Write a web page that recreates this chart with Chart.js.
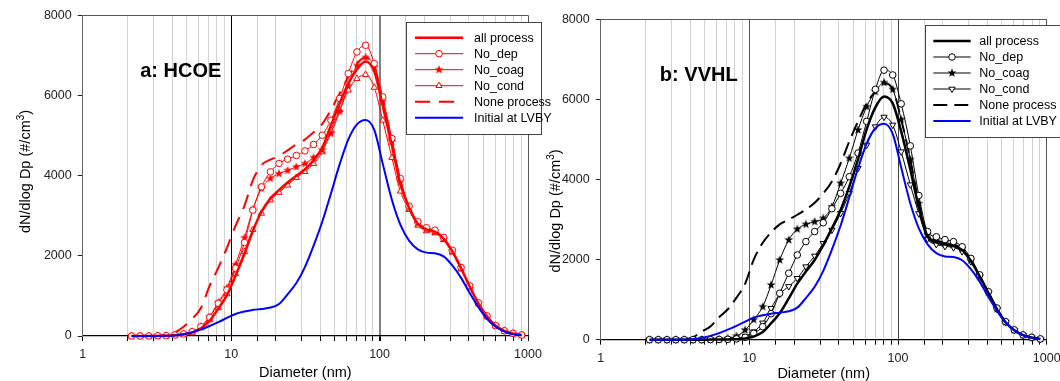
<!DOCTYPE html>
<html>
<head>
<meta charset="utf-8">
<script src="https://cdn.jsdelivr.net/npm/chart.js@4/dist/chart.umd.min.js"></script>
<style>
  body { margin: 0; background: #fff; }
  #wrap { position: relative; width: 1060px; height: 381px; overflow: hidden; }
  canvas { position: absolute; top: 0; }
</style>
</head>
<body>
<div id="wrap">
  <canvas id="chartA" width="560" height="381" style="left:0"></canvas>
  <canvas id="chartB" width="530" height="381" style="left:530px"></canvas>
</div>
<script>
// particle diameters (nm), same bins for every series
const diam = [2.13, 2.44, 2.79, 3.20, 3.65, 4.18, 4.78, 5.47, 6.26, 7.16, 8.19,
  9.37, 10.7, 12.3, 14.0, 16.0, 18.4, 21.0, 24.0, 27.5, 31.4,
  35.9, 41.1, 47.0, 53.8, 61.5, 70.4, 80.5, 92.1, 105, 121,
  138, 158, 181, 207, 236, 270, 309, 354, 405, 463,
  529, 605, 693, 792, 906];

// initial size distribution at LVBY (same in both panels)
const initialLVBY = [0, 0, 0, 0, 5, 12, 45, 95, 165, 250, 345,
  450, 550, 610, 650, 675, 710, 800, 1040, 1320, 1720,
  2250, 2850, 3550, 4280, 4900, 5280, 5390, 5140, 4300, 3400,
  2780, 2380, 2160, 2080, 2065, 1985, 1760, 1450, 1070, 720,
  430, 235, 110, 45, 15];

// panel a: HCOE
const hcoeAll = [0, 0, 0, 3, 8, 20, 40, 85, 190, 380, 680,
  1020, 1500, 2050, 2620, 3100, 3430, 3640, 3830, 4000, 4160,
  4380, 4700, 5250, 5800, 6300, 6650, 6850, 6600, 5750, 4750,
  3800, 3200, 2800, 2660, 2600, 2430, 2110, 1690, 1230, 815,
  490, 255, 128, 64, 24];
const hcoeNoDep = [0, 0, 0, 5, 10, 25, 50, 108, 233, 465, 814,
  1150, 1690, 2330, 3140, 3720, 4095, 4303, 4411, 4502, 4618,
  4777, 5009, 5383, 5923, 6546, 7086, 7252, 6795, 5964, 4926,
  3929, 3240, 2850, 2700, 2640, 2460, 2140, 1710, 1250, 830,
  500, 260, 130, 66, 25];
const hcoeNoCoag = [0, 0, 0, 5, 10, 25, 50, 110, 240, 480, 840,
  1200, 1780, 2450, 3150, 3680, 3930, 4050, 4130, 4220, 4300,
  4450, 4640, 5050, 5600, 6250, 6750, 6950, 6700, 5850, 4850,
  3850, 3200, 2810, 2660, 2600, 2420, 2110, 1690, 1230, 815,
  490, 255, 128, 64, 24];
const hcoeNoCond = [0, 0, 0, 3, 8, 20, 40, 90, 200, 400, 700,
  1050, 1550, 2100, 2650, 3060, 3390, 3580, 3760, 3950, 4100,
  4300, 4590, 5130, 5630, 6130, 6420, 6520, 6200, 5380, 4450,
  3610, 3150, 2760, 2620, 2570, 2400, 2090, 1670, 1220, 810,
  485, 250, 125, 62, 22];
const hcoeNone = [null, null, null, null, null, 80, 230, 430, 700, 1250, 1700,
  2200, 2750, 3250, 3880, 4260, 4400, 4490, 4630, 4780, 4900,
  5080, 5290, 5640, 6050, 6450, 6800, 6950, 6700, 5850, 4850,
  3850, 3200, 2810, 2660, 2600, 2420, 2110, 1690, 1230, 815,
  490, 255, 128, 64, 24];

// panel b: VVHL
const vvhlAll = [0, 0, 0, 0, 0, 0, 0, 2, 4, 8, 12,
  30, 80, 190, 410, 660, 1030, 1400, 1700, 1990, 2360,
  2780, 3240, 3820, 4500, 5250, 5800, 6070, 5900, 5200, 4250,
  3300, 2580, 2430, 2380, 2340, 2240, 1970, 1580, 1170, 765,
  435, 238, 114, 54, 16];
const vvhlNoDep = [0, 0, 0, 0, 0, 0, 0, 3, 6, 10, 20,
  60, 160, 325, 650, 1160, 1660, 2115, 2450, 2700, 2920,
  3270, 3655, 4070, 4660, 5450, 6250, 6730, 6610, 5890, 4840,
  3600, 2700, 2570, 2500, 2450, 2320, 2030, 1620, 1200, 790,
  450, 245, 120, 60, 20];
const vvhlNoCoag = [0, 0, 0, 0, 0, 0, 0, 5, 10, 30, 90,
  240, 500, 824, 1366, 1990, 2490, 2760, 2880, 2946, 3030,
  3320, 3905, 4530, 5236, 5818, 6193, 6420, 6250, 5500, 4500,
  3400, 2620, 2480, 2420, 2380, 2270, 1990, 1590, 1180, 770,
  440, 240, 115, 55, 18];
const vvhlNoCond = [0, 0, 0, 0, 0, 0, 0, 3, 6, 12, 30,
  80, 200, 420, 784, 1140, 1330, 1533, 1823, 2090, 2407,
  2739, 3156, 3655, 4280, 4862, 5319, 5560, 5361, 4694, 3870,
  3150, 2520, 2380, 2330, 2300, 2200, 1950, 1560, 1160, 760,
  430, 235, 112, 52, 15];
const vvhlNone = [null, null, null, null, 0, 60, 200, 330, 560, 760, 1050,
  1400, 2000, 2420, 2680, 2880, 3000, 3120, 3250, 3420, 3650,
  3950, 4400, 4950, 5450, 5900, 6200, 6400, 6250, 5500, 4500,
  3400, 2620, 2480, 2420, 2380, 2270, 1990, 1590, 1180, 770,
  440, 240, 115, 55, 18];

// axis ticks
const xTickLabels = [1, 10, 100, 1000];
const yTicks = [0, 2000, 4000, 6000, 8000];

const FONT = '"Liberation Sans", Arial, Helvetica, sans-serif';

// filled five point star as a point image
const starImage = (color) => {
  var c = document.createElement('canvas');
  c.width = 10; c.height = 10;
  var g = c.getContext('2d');
  g.fillStyle = color;
  g.beginPath();
  for (var i = 0; i < 10; i++) {
    var r = i % 2 ? 1.9 : 4.7;
    var t = -Math.PI / 2 + i * Math.PI / 5;
    g.lineTo(5 + r * Math.cos(t), 5 + r * Math.sin(t));
  }
  g.closePath();
  g.fill();
  return c;
}

const toPoints = (vals) => diam.map((d, i) => ({x: d, y: vals[i]}));

const makeDatasets = (color, s, triRot) => [
  {label: 'all process', data: toPoints(s.all), borderColor: color, borderWidth: 2.5,
   pointRadius: 0, order: 1},
  {label: 'No_dep', data: toPoints(s.noDep), borderColor: color, borderWidth: 1,
   pointStyle: 'circle', pointRadius: 3.3, pointBorderWidth: 1,
   pointBackgroundColor: '#fff', pointBorderColor: color, order: 2},
  {label: 'No_coag', data: toPoints(s.noCoag), borderColor: color, borderWidth: 1,
   pointStyle: starImage(color), pointRadius: 4, order: 3},
  {label: 'No_cond', data: toPoints(s.noCond), borderColor: color, borderWidth: 1,
   pointStyle: 'triangle', pointRotation: triRot, pointRadius: 3.6, pointBorderWidth: 1,
   pointBackgroundColor: '#fff', pointBorderColor: color, order: 4},
  {label: 'None process', data: toPoints(s.none), borderColor: color, borderWidth: 2,
   borderDash: s.dash, pointRadius: 0, order: 5},
  {label: 'Initial at LVBY', data: toPoints(initialLVBY), borderColor: '#0000ff',
   borderWidth: 2, pointRadius: 0, order: 0}
];

// titles, panel label and the boxed legend
const decor = {
  id: 'decor',
  afterDraw(chart, args, o) {
    var ctx = chart.ctx;
    var a = chart.chartArea;
    var xs = chart.scales.x, ys = chart.scales.y;
    ctx.save();
    ctx.fillStyle = '#000';

    // panel label
    ctx.font = 'bold 20px ' + FONT;
    ctx.textAlign = 'left';
    ctx.textBaseline = 'middle';
    ctx.fillText(o.panel, xs.getPixelForValue(o.panelAt[0]), ys.getPixelForValue(o.panelAt[1]));

    // x title
    ctx.font = '14.5px ' + FONT;
    ctx.textAlign = 'center';
    ctx.fillText('Diameter (nm)', (a.left + a.right) / 2, o.xTitleY);

    // y title with superscript
    ctx.save();
    ctx.translate(a.left - o.yTitleOff, o.yTitleMid);
    ctx.rotate(-Math.PI / 2);
    ctx.textBaseline = 'alphabetic';
    ctx.textAlign = 'left';
    var t1 = 'dN/dlog Dp (#/cm', t2 = '3', t3 = ')';
    ctx.font = '14.5px ' + FONT;
    var w1 = ctx.measureText(t1).width, w3 = ctx.measureText(t3).width;
    ctx.font = '10px ' + FONT;
    var w2 = ctx.measureText(t2).width;
    var x0 = -(w1 + w2 + w3) / 2;
    ctx.font = '14.5px ' + FONT;
    ctx.fillText(t1, x0, 0);
    ctx.fillText(t3, x0 + w1 + w2, 0);
    ctx.font = '10px ' + FONT;
    ctx.fillText(t2, x0 + w1, -6);
    ctx.restore();

    // legend box
    var bx = a.right - 122, by = a.top + o.legendTop;
    ctx.fillStyle = '#fff';
    ctx.fillRect(bx, by, 135, 112);
    ctx.strokeStyle = '#444';
    ctx.lineWidth = 1;
    ctx.strokeRect(Math.round(bx) + 0.5, Math.round(by) + 0.5, 135, 112);

    var dsets = chart.data.datasets;
    for (var i = 0; i < dsets.length; i++) {
      var ds = dsets[i];
      var ry = by + 15.7 + i * 16;
      var l0 = bx + o.lineFrom, l1 = bx + o.lineTo;
      ctx.strokeStyle = ds.borderColor;
      ctx.lineWidth = ds.borderWidth;
      ctx.setLineDash(ds.borderDash || []);
      ctx.beginPath();
      ctx.moveTo(l0, ry);
      ctx.lineTo(l1, ry);
      ctx.stroke();
      ctx.setLineDash([]);
      if (ds.pointRadius) {
        var mx = (l0 + l1) / 2;
        if (ds.pointStyle instanceof HTMLCanvasElement) {
          ctx.drawImage(ds.pointStyle, mx - ds.pointStyle.width / 2, ry - ds.pointStyle.height / 2);
        } else {
          ctx.fillStyle = ds.pointBackgroundColor;
          ctx.strokeStyle = ds.pointBorderColor;
          ctx.lineWidth = ds.pointBorderWidth;
          Chart.helpers.drawPoint(ctx, {pointStyle: ds.pointStyle, rotation: ds.pointRotation || 0,
            radius: ds.pointRadius, borderWidth: ds.pointBorderWidth}, mx, ry);
        }
      }
      ctx.fillStyle = '#000';
      ctx.font = '12.5px ' + FONT;
      ctx.textAlign = 'left';
      ctx.textBaseline = 'middle';
      ctx.fillText(ds.label, bx + o.textFrom, ry + 0.5);
    }
    ctx.restore();
  }
};

const buildChart = (id, datasets, p) => {
  var frame = '#555';
  return new Chart(document.getElementById(id), {
    type: 'line',
    data: {datasets: datasets},
    plugins: [decor],
    options: {
      responsive: false,
      animation: false,
      devicePixelRatio: 1,
      cubicInterpolationMode: 'monotone',
      clip: false,
      layout: {padding: {left: 0, right: p.padRight, top: p.padTop, bottom: 0}},
      elements: {line: {cubicInterpolationMode: 'monotone'}},
      plugins: {
        legend: {display: false},
        tooltip: {enabled: false},
        decor: p.decor
      },
      scales: {
        x: {
          type: 'logarithmic',
          min: 1,
          max: 1000,
          afterFit: (s) => { s.height = p.xHeight; s.paddingLeft = 0; s.paddingRight = 0; },
          border: {display: true, color: '#000', width: 1.2},
          grid: {
            drawOnChartArea: true,
            tickLength: 5,
            tickColor: '#000',
            color: (c) => {
              var v = c.tick ? c.tick.value : null;
              if (v === 1 || v === 1000) return frame;
              if (v === 10) return p.c10;
              if (v === 100) return p.c100;
              return '#d2d2d2';
            },
            lineWidth: (c) => (c.tick && c.tick.value === 100) ? p.w100 : 1
          },
          ticks: {
            autoSkip: false,
            maxRotation: 0,
            padding: 6,
            color: '#222',
            font: {family: FONT, size: 12.5},
            callback: (v) => xTickLabels.includes(v) ? String(v) : ''
          }
        },
        y: {
          type: 'linear',
          min: yTicks[0],
          max: yTicks[yTicks.length - 1],
          afterFit: (s) => { s.width = p.yWidth; },
          afterBuildTicks: (s) => { s.ticks = yTicks.map((v) => ({value: v})); },
          border: {display: true, color: '#666', width: 1},
          grid: {
            drawOnChartArea: true,
            tickLength: 5,
            tickColor: '#222',
            color: (c) => (c.tick && c.tick.value === 8000) ? frame : 'rgba(0,0,0,0)'
          },
          ticks: {
            padding: 6,
            color: '#222',
            font: {family: FONT, size: 12.5},
            callback: (v) => String(v)
          }
        }
      }
    }
  });
}

const chartA = buildChart('chartA',
  makeDatasets('#ff0000', {all: hcoeAll, noDep: hcoeNoDep, noCoag: hcoeNoCoag,
    noCond: hcoeNoCond, none: hcoeNone, dash: [15, 9]}, 0),
  {padRight: 32, padTop: 15.3, xHeight: 45, yWidth: 82.7, c10: '#000', c100: '#808080', w100: 2,
   decor: {panel: 'a: HCOE', panelAt: [2.44, 6600], xTitleY: 373, yTitleOff: 52.4, yTitleMid: 171.5,
     legendTop: 6.7, lineFrom: 9, lineTo: 57, textFrom: 68}});

const chartB = buildChart('chartB',
  makeDatasets('#000000', {all: vvhlAll, noDep: vvhlNoDep, noCoag: vvhlNoCoag,
    noCond: vvhlNoCond, none: vvhlNone, dash: [14, 7]}, 180),
  {padRight: 13.3, padTop: 19.3, xHeight: 41.3, yWidth: 70.7, c10: '#555', c100: '#444', w100: 1,
   decor: {panel: 'b: VVHL', panelAt: [2.5, 6600], xTitleY: 373.5, yTitleOff: 40.7, yTitleMid: 211,
     legendTop: 6, lineFrom: 8.6, lineTo: 46, textFrom: 54.6}});
</script>
</body>
</html>
